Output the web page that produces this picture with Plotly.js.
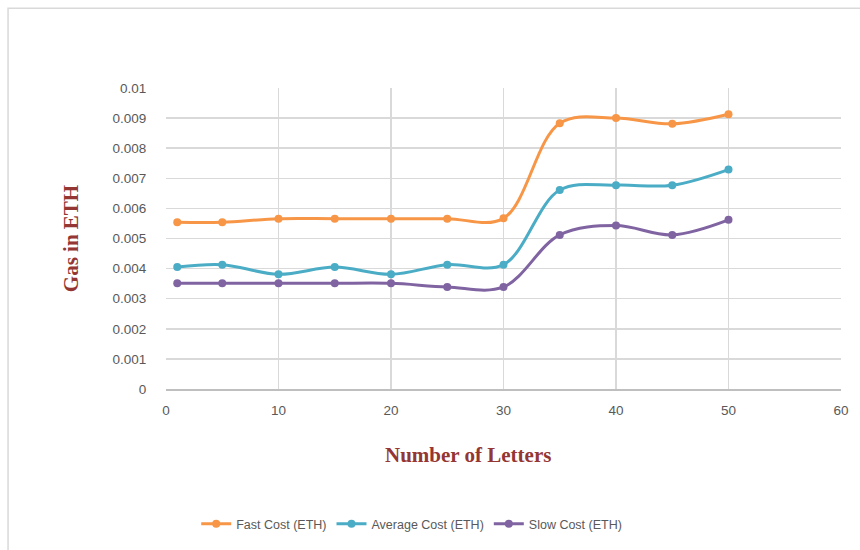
<!DOCTYPE html>
<html>
<head>
<meta charset="utf-8">
<script src="https://cdn.plot.ly/plotly-3.0.1.min.js"></script>
<style>
html,body{margin:0;padding:0;background:#fff;}
#chart{width:860px;height:550px;}
</style>
</head>
<body>
<div id="chart"></div>
<script>
var letters = [1, 5, 10, 15, 20, 25, 30, 35, 40, 45, 50];
var fastCost = [0.00554, 0.00554, 0.00566, 0.00566, 0.00566, 0.00566, 0.00567, 0.00883, 0.00900, 0.00881, 0.00913];
var averageCost = [0.00405, 0.00413, 0.00381, 0.00405, 0.00381, 0.00413, 0.00413, 0.00661, 0.00677, 0.00677, 0.00729];
var slowCost = [0.00351, 0.00351, 0.00351, 0.00351, 0.00351, 0.00339, 0.00339, 0.00512, 0.00543, 0.00512, 0.00562];
var seriesNames = ["Fast Cost (ETH)", "Average Cost (ETH)", "Slow Cost (ETH)"];
var yTicks = [0, 0.001, 0.002, 0.003, 0.004, 0.005, 0.006, 0.007, 0.008, 0.009, 0.01];
var yTickText = ["0", "0.001", "0.002", "0.003", "0.004", "0.005", "0.006", "0.007", "0.008", "0.009", "0.01"];
var xTicks = [0, 10, 20, 30, 40, 50, 60];
var xTitle = "Number of Letters";
var yTitle = "Gas in ETH";

var colors = ["#F79646", "#4BACC6", "#8064A2"];
var seriesValues = [fastCost, averageCost, slowCost];

var traces = seriesValues.map(function (vals, i) {
  return {
    type: "scatter",
    mode: "lines+markers",
    x: letters,
    y: vals,
    name: seriesNames[i],
    line: {color: colors[i], width: 3, shape: "spline", smoothing: 1},
    marker: {color: colors[i], size: 8, symbol: "circle"}
  };
});

var axisTitleFont = {family: "Liberation Serif, Times New Roman, serif", size: 21, color: "#943634", weight: "bold"};
var tickFont = {family: "Liberation Sans, Arial, sans-serif", size: 13.5, color: "#595959"};

var layout = {
  width: 860,
  height: 550,
  paper_bgcolor: "#ffffff",
  plot_bgcolor: "#ffffff",
  margin: {l: 166, r: 19, t: 88, b: 160},
  showlegend: true,
  legend: {
    orientation: "h",
    x: 0.364, xanchor: "center",
    y: -0.444, yanchor: "middle",
    font: {family: "Liberation Sans, Arial, sans-serif", size: 12.5, color: "#595959"},
    itemwidth: 30,
    tracegroupgap: 0
  },
  xaxis: {
    range: [0, 60],
    tickvals: xTicks,
    ticktext: xTicks.map(String),
    showgrid: true,
    gridcolor: "#d9d9d9",
    gridwidth: 1.5,
    zeroline: false,
    showline: true,
    linecolor: "#bfbfbf",
    linewidth: 1.5,
    ticks: "outside",
    ticklen: 8,
    tickcolor: "rgba(0,0,0,0)",
    tickfont: tickFont
  },
  yaxis: {
    range: [0, 0.01],
    tickvals: yTicks,
    ticktext: yTickText,
    showgrid: true,
    gridcolor: "#d9d9d9",
    gridwidth: 1.5,
    zeroline: false,
    showline: false,
    ticks: "outside",
    ticklen: 16,
    tickcolor: "rgba(0,0,0,0)",
    tickfont: tickFont,
    title: {text: yTitle, font: axisTitleFont, standoff: 28}
  },
  annotations: [
    {text: xTitle, xref: "paper", yref: "paper", x: 0.447, y: -0.219,
     xanchor: "center", yanchor: "middle", showarrow: false, font: axisTitleFont}
  ],
  shapes: [
    {type: "rect", xref: "paper", yref: "paper",
     x0: -0.234, x1: 1.06, y0: -0.62, y1: 1.265,
     line: {color: "#d9d9d9", width: 1.5}, fillcolor: "rgba(0,0,0,0)", layer: "below"}
  ]
};

Plotly.newPlot("chart", traces, layout, {displayModeBar: false, staticPlot: true});
</script>
</body>
</html>
